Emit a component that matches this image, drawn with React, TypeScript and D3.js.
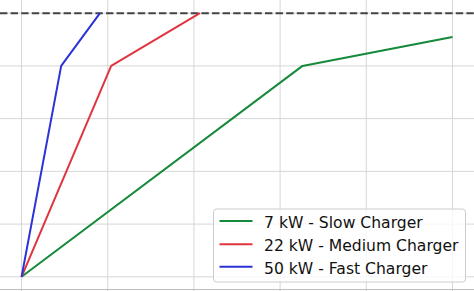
import React from "react";
import * as d3 from "d3";

const seriesLabels = ["7 kW - Slow Charger", "22 kW - Medium Charger", "50 kW - Fast Charger"];
const seriesColors = ["#158a3a", "#e0343f", "#2b33d6"];
const slowHours = [0, 3.26, 5.0];
const slowCharge = [0, 80, 91];
const mediumHours = [0, 1.04, 2.07];
const mediumCharge = [0, 80, 100];
const fastHours = [0, 0.46, 0.91];
const fastCharge = [0, 80, 100];
const xTicks = [0, 1, 2, 3, 4, 5];
const yTicks = [0, 20, 40, 60, 80, 100];
const fullCharge = 100;

const W = 474;
const H = 291;

export default function App() {
  const x = d3.scaleLinear().domain([-0.25, 5.25]).range([0, W]);
  const y = d3.scaleLinear().domain([-5, 105]).range([290, 0]);
  const line = d3
    .line<[number, number]>()
    .x((d) => x(d[0]))
    .y((d) => y(d[1]));
  const series = [
    slowHours.map((h, i) => [h, slowCharge[i]] as [number, number]),
    mediumHours.map((h, i) => [h, mediumCharge[i]] as [number, number]),
    fastHours.map((h, i) => [h, fastCharge[i]] as [number, number]),
  ];
  const fontSize = 15.6;
  const legX = 213.5;
  const legY = 209;
  const rowY = [221, 244.3, 266.7];
  return (
    <svg
      width={W}
      height={H}
      style={{ position: "fixed", left: 0, top: 0, background: "#fff" }}
      fontFamily="DejaVu Sans"
    >
      <rect x={0} y={0} width={W} height={H} fill="#fff" />
      {xTicks.map((t) => (
        <line key={"gx" + t} x1={x(t)} x2={x(t)} y1={0} y2={H} stroke="#d6d6d6" strokeWidth={1} />
      ))}
      {yTicks.map((t) => (
        <line key={"gy" + t} x1={0} x2={W} y1={y(t)} y2={y(t)} stroke="#d6d6d6" strokeWidth={1} />
      ))}
      <line x1={0} x2={W} y1={289.5} y2={289.5} stroke="#bdbdbd" strokeWidth={1.2} />
      <line
        x1={0}
        x2={W}
        y1={y(fullCharge)}
        y2={y(fullCharge)}
        stroke="#444"
        strokeWidth={2}
        strokeDasharray="7.4 3.2"
      />
      {series.map((s, i) => (
        <path key={"s" + i} d={line(s) || ""} fill="none" stroke={seriesColors[i]} strokeWidth={2} strokeLinejoin="round" />
      ))}
      <rect
        x={legX}
        y={legY}
        width={252}
        height={73}
        rx={3}
        fill="#fff"
        fillOpacity={0.8}
        stroke="#cccccc"
        strokeWidth={1}
      />
      {seriesLabels.map((lab, i) => (
        <g key={"l" + i}>
          <line x1={219.5} x2={252.5} y1={rowY[i]} y2={rowY[i]} stroke={seriesColors[i]} strokeWidth={2} />
          <text x={264} y={rowY[i] + 7} fontSize={fontSize} fill="#111">
            {lab}
          </text>
        </g>
      ))}
    </svg>
  );
}
